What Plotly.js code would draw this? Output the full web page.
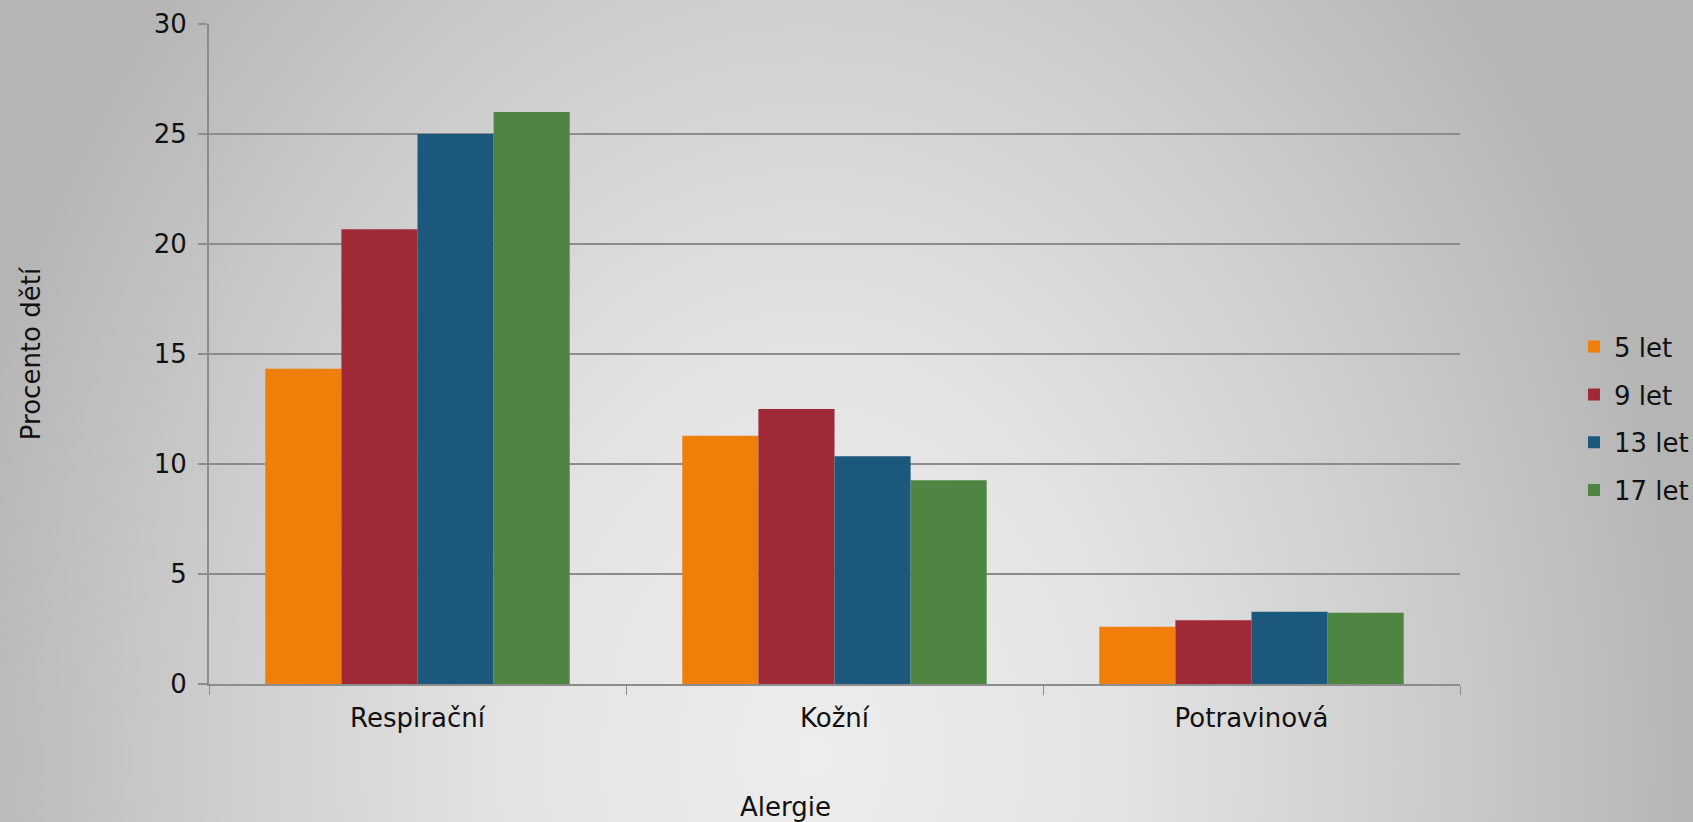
<!DOCTYPE html>
<html>
<head>
<meta charset="utf-8">
<script src="https://cdn.plot.ly/plotly-3.0.1.min.js"></script>
<style>
html, body { margin: 0; padding: 0; width: 1693px; height: 822px; overflow: hidden; }
body { background: radial-gradient(ellipse 880px 1150px at 48% 92%, #ededed 0%, #e3e3e3 35%, #cccccc 70%, #b5b5b5 100%); }
#chart { width: 1693px; height: 822px; }
</style>
</head>
<body>
<div id="chart"></div>
<script>
const categories = ["Respirační", "Kožní", "Potravinová"];
const seriesNames = ["5 let", "9 let", "13 let", "17 let"];
const values5 = [14.33, 11.28, 2.6];
const values9 = [20.67, 12.5, 2.9];
const values13 = [25.0, 10.35, 3.28];
const values17 = [26.0, 9.26, 3.24];
const yTicks = [0, 5, 10, 15, 20, 25, 30];
const xTitle = "Alergie";
const yTitle = "Procento dětí";

const colors = ["#F07F09", "#9F2936", "#1B587C", "#4E8542"];
const allValues = [values5, values9, values13, values17];
const FONT = "DejaVu Sans, Verdana, sans-serif";
const FS = 26;

const traces = allValues.map((v, i) => ({
  type: "bar",
  name: seriesNames[i],
  x: categories,
  y: v,
  marker: { color: colors[i], line: { width: 0 } },
  legendgroup: "g" + i,
  hoverinfo: "skip"
}));

const layout = {
  width: 1693,
  height: 822,
  paper_bgcolor: "rgba(0,0,0,0)",
  plot_bgcolor: "rgba(0,0,0,0)",
  margin: { l: 209, r: 233, t: 24, b: 138, pad: 0, autoexpand: false },
  barmode: "group",
  bargap: 0.27,
  bargroupgap: 0,
  font: { family: FONT, size: FS, color: "#111111" },
  showlegend: true,
  legend: {
    x: 0.9297, xanchor: "left", xref: "container",
    y: 0.402, yanchor: "middle",
    bgcolor: "rgba(0,0,0,0)",
    font: { family: FONT, size: FS, color: "#111111" },
    traceorder: "grouped",
    tracegroupgap: 11,
    itemwidth: 30
  },
  xaxis: {
    type: "category",
    showline: true, linecolor: "#8c8c8c", linewidth: 2,
    ticks: "outside", tickson: "boundaries", ticklen: 9, tickcolor: "#8c8c8c", tickwidth: 1,
    showgrid: false,
    tickfont: { family: FONT, size: FS, color: "#111111" },
    ticklabelstandoff: 10,
    zeroline: false
  },
  yaxis: {
    range: [0, 30],
    tickvals: yTicks,
    ticktext: yTicks.map(String),
    showline: true, linecolor: "#8c8c8c", linewidth: 2,
    ticks: "outside", ticklen: 9, tickcolor: "#8c8c8c", tickwidth: 2,
    showgrid: true, gridcolor: "#8c8c8c", gridwidth: 2,
    zeroline: false,
    tickfont: { family: FONT, size: FS, color: "#111111" },
    ticklabelstandoff: 6,
    title: { text: yTitle, font: { family: FONT, size: FS, color: "#111111" }, standoff: 106 }
  },
  annotations: [{
    text: xTitle,
    xref: "paper", yref: "paper",
    x: 0.461, y: -0.187,
    xanchor: "center", yanchor: "middle",
    showarrow: false,
    font: { family: FONT, size: FS, color: "#111111" }
  }]
};

Plotly.newPlot("chart", traces, layout, { displayModeBar: false, staticPlot: true });
</script>
</body>
</html>
